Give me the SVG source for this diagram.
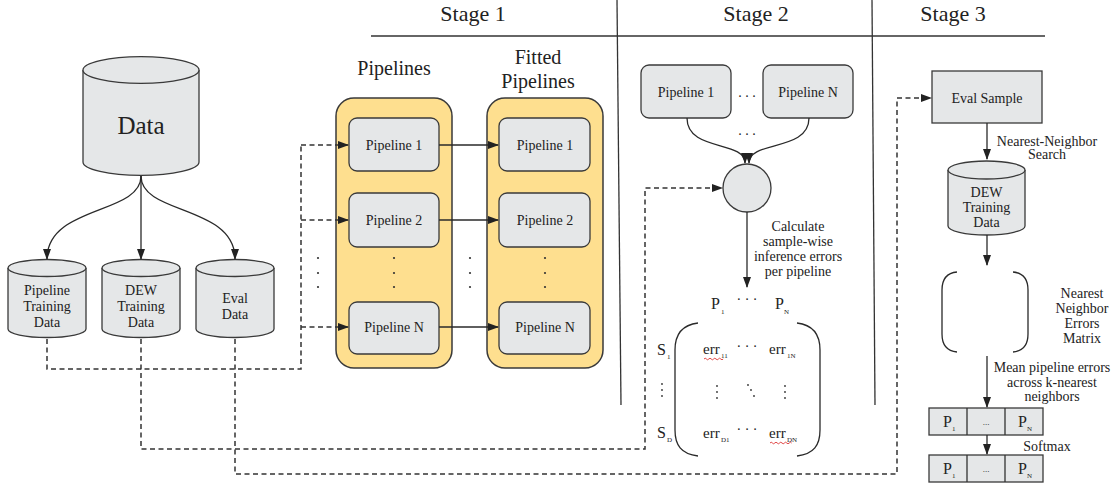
<svg xmlns="http://www.w3.org/2000/svg" width="1117" height="487" viewBox="0 0 1117 487">
<style>
text{font-family:"Liberation Serif","DejaVu Serif",serif;fill:#222;}
.t14{font-size:14px;text-anchor:middle;}
.stage{font-size:22px;text-anchor:middle;}
.title{font-size:20px;text-anchor:middle;}
.big{font-size:25px;text-anchor:middle;}
.m{font-size:16px;}
.e{font-size:15px;}
.sub{font-size:7px;}
.box{fill:#e5e7e8;stroke:#3a3a3a;stroke-width:1.3;}
.cont{fill:#fedf8f;stroke:#3a3a3a;stroke-width:1.5;}
.ln{fill:none;stroke:#2a2a2a;stroke-width:1.3;}
.dash{fill:none;stroke:#333;stroke-width:1.5;stroke-dasharray:5 3.5;}
.div{fill:none;stroke:#333;stroke-width:1.3;}
.dot{fill:#333;}
.red{fill:none;stroke:#d33;stroke-width:0.9;}
</style>
<defs>
<marker id="ah" markerWidth="11" markerHeight="10" refX="10" refY="5" orient="auto" markerUnits="userSpaceOnUse">
<path d="M0,1 L11,5 L0,9 Z" fill="#222"/>
</marker>
</defs>

<g id="stage-headers">
<text class="stage" x="473" y="21">Stage 1</text>
<text class="stage" x="756" y="21">Stage 2</text>
<text class="stage" x="953" y="21">Stage 3</text>
<path class="div" d="M371,36 H1045"/>
<path class="div" d="M617,0 L621,405"/>
<path class="div" d="M872,0 L875,405"/>
</g>

<g id="data">
<path class="box" d="M83,70 V162 A58,13.3 0 0 0 199,162 V70"/>
<ellipse class="box" cx="141" cy="70" rx="58" ry="13.3"/>
<text class="big" x="141" y="134">Data</text>
</g>

<g id="pipeline-training-data">
<path class="box" d="M8,268 V329 A39,8.5 0 0 0 86,329 V268"/>
<ellipse class="box" cx="47" cy="268" rx="39" ry="8.5"/>
<text class="t14" x="47" y="295">Pipeline</text>
<text class="t14" x="47" y="311">Training</text>
<text class="t14" x="47" y="327">Data</text>
</g>

<g id="dew-training-data">
<path class="box" d="M102,268 V329 A39,8.5 0 0 0 180,329 V268"/>
<ellipse class="box" cx="141" cy="268" rx="39" ry="8.5"/>
<text class="t14" x="141" y="295">DEW</text>
<text class="t14" x="141" y="311">Training</text>
<text class="t14" x="141" y="327">Data</text>
</g>

<g id="eval-data">
<path class="box" d="M196,268 V329 A39,8.5 0 0 0 274,329 V268"/>
<ellipse class="box" cx="235" cy="268" rx="39" ry="8.5"/>
<text class="t14" x="235" y="303">Eval</text>
<text class="t14" x="235" y="319">Data</text>
</g>

<g id="dots-left">
<circle class="dot" cx="318" cy="258" r="1.1"/><circle class="dot" cx="318" cy="273" r="1.1"/><circle class="dot" cx="318" cy="287" r="1.1"/>
<circle class="dot" cx="470" cy="258" r="1.1"/><circle class="dot" cx="470" cy="273" r="1.1"/><circle class="dot" cx="470" cy="287" r="1.1"/>
</g>

<g id="pipelines">
<text class="title" x="394" y="75">Pipelines</text>
<rect class="cont" x="336" y="98" width="116" height="270" rx="18"/>
<circle class="dot" cx="394" cy="258" r="1.1"/><circle class="dot" cx="394" cy="273" r="1.1"/><circle class="dot" cx="394" cy="287" r="1.1"/>
</g>
<g id="p1"><rect class="box" x="349" y="118" width="90" height="53" rx="8"/><text class="t14" x="394" y="150">Pipeline 1</text></g>
<g id="p2"><rect class="box" x="349" y="193" width="90" height="54" rx="8"/><text class="t14" x="394" y="225">Pipeline 2</text></g>
<g id="pN"><rect class="box" x="349" y="302" width="90" height="52" rx="8"/><text class="t14" x="394" y="332">Pipeline N</text></g>

<g id="fitted-pipelines">
<text class="title" x="538" y="64">Fitted</text>
<text class="title" x="538" y="88">Pipelines</text>
<rect class="cont" x="487" y="98" width="116" height="270" rx="18"/>
<circle class="dot" cx="545" cy="258" r="1.1"/><circle class="dot" cx="545" cy="273" r="1.1"/><circle class="dot" cx="545" cy="287" r="1.1"/>
</g>
<g id="fp1"><rect class="box" x="499" y="118" width="91" height="53" rx="8"/><text class="t14" x="545" y="150">Pipeline 1</text></g>
<g id="fp2"><rect class="box" x="499" y="193" width="91" height="54" rx="8"/><text class="t14" x="545" y="225">Pipeline 2</text></g>
<g id="fpN"><rect class="box" x="499" y="302" width="91" height="52" rx="8"/><text class="t14" x="545" y="332">Pipeline N</text></g>

<g id="s2-p1"><rect class="box" x="641" y="65" width="90" height="53" rx="8"/><text class="t14" x="686" y="97">Pipeline 1</text></g>
<g id="s2-pN"><rect class="box" x="763" y="65" width="90" height="53" rx="8"/><text class="t14" x="808" y="97">Pipeline N</text></g>
<g id="s2-dots">
<text class="t14" x="747" y="97">. . .</text>
<text class="t14" x="747" y="135">. . .</text>
</g>
<g id="s2-circle"><circle class="box" cx="747" cy="188" r="24"/></g>
<g id="s2-label">
<text class="t14" x="798" y="231">Calculate</text>
<text class="t14" x="798" y="246">sample-wise</text>
<text class="t14" x="798" y="261">inference errors</text>
<text class="t14" x="798" y="276">per pipeline</text>
</g>

<g id="error-matrix">
<text class="m" x="711" y="309">P</text><text class="sub" x="721" y="314">1</text>
<text class="t14" x="747" y="304">· · ·</text>
<text class="m" x="775" y="309">P</text><text class="sub" x="784" y="314">N</text>
<path class="ln" d="M698,323 C681,325 675,335 675,350 V430 C675,445 681,454 698,456"/>
<path class="ln" d="M797,323 C814,325 820,335 820,350 V430 C820,445 814,454 797,456"/>
<text class="m" x="657" y="355">S</text><text class="sub" x="667" y="359">1</text>
<circle class="dot" cx="662" cy="384" r="0.9"/><circle class="dot" cx="662" cy="390" r="0.9"/><circle class="dot" cx="662" cy="396" r="0.9"/>
<text class="m" x="657" y="438">S</text><text class="sub" x="667" y="442">D</text>
<text class="e" x="703" y="354">err</text><text class="sub" x="721" y="358">11</text>
<path class="red" d="M704,359 q1.2,-1.6 2.4,0 t2.4,0 t2.4,0 t2.4,0 t2.4,0 t2.4,0 t2.4,0 t2.4,0"/>
<text class="t14" x="747" y="351">· · ·</text>
<text class="e" x="769" y="354">err</text><text class="sub" x="787" y="358">1N</text>
<circle class="dot" cx="717" cy="386" r="0.9"/><circle class="dot" cx="717" cy="392" r="0.9"/><circle class="dot" cx="717" cy="398" r="0.9"/>
<circle class="dot" cx="748" cy="385" r="0.9"/><circle class="dot" cx="751" cy="390" r="0.9"/><circle class="dot" cx="754" cy="396" r="0.9"/>
<circle class="dot" cx="785" cy="386" r="0.9"/><circle class="dot" cx="785" cy="392" r="0.9"/><circle class="dot" cx="785" cy="398" r="0.9"/>
<text class="e" x="703" y="438">err</text><text class="sub" x="721" y="442">D1</text>
<text class="t14" x="747" y="434">· · ·</text>
<text class="e" x="769" y="438">err</text><text class="sub" x="787" y="442">DN</text>
<path class="red" d="M770,443 q1.2,-1.6 2.4,0 t2.4,0 t2.4,0 t2.4,0 t2.4,0 t2.4,0 t2.4,0 t2.4,0 t2.4,0"/>
</g>

<g id="eval-sample"><rect class="box" x="932" y="71" width="110" height="52"/><text class="t14" x="987" y="103">Eval Sample</text></g>
<g id="nn-label">
<text class="t14" x="1047" y="146">Nearest-Neighbor</text>
<text class="t14" x="1047" y="159">Search</text>
</g>
<g id="s3-dew">
<path class="box" d="M948,170 V226 A38.5,9 0 0 0 1025,226 V170"/>
<ellipse class="box" cx="986.5" cy="170" rx="38.5" ry="9"/>
<text class="t14" x="986.5" y="197">DEW</text>
<text class="t14" x="986.5" y="212">Training</text>
<text class="t14" x="986.5" y="227">Data</text>
</g>
<g id="nn-matrix">
<path class="ln" d="M957,272 C946,273 942,280 942,290 V334 C942,344 946,351 957,352"/>
<path class="ln" d="M1013,272 C1024,273 1028,280 1028,290 V334 C1028,344 1024,351 1013,352"/>
<text class="t14" x="1082" y="298">Nearest</text>
<text class="t14" x="1082" y="313">Neighbor</text>
<text class="t14" x="1082" y="328">Errors</text>
<text class="t14" x="1082" y="343">Matrix</text>
</g>
<g id="mean-label">
<text class="t14" x="1052" y="372">Mean pipeline errors</text>
<text class="t14" x="1052" y="387">across k-nearest</text>
<text class="t14" x="1052" y="401">neighbors</text>
</g>
<g id="row1">
<rect class="box" x="929" y="408" width="114" height="27"/>
<path class="div" d="M967,408 V435 M1005,408 V435"/>
<text class="m" x="943" y="427">P</text><text class="sub" x="952" y="431">1</text>
<text class="t14" x="986" y="425" style="font-size:9px">...</text>
<text class="m" x="1018" y="427">P</text><text class="sub" x="1027" y="431">N</text>
</g>
<g id="softmax-label"><text class="t14" x="1047" y="451">Softmax</text></g>
<g id="row2">
<rect class="box" x="929" y="455" width="114" height="27"/>
<path class="div" d="M967,455 V482 M1005,455 V482"/>
<text class="m" x="943" y="474">P</text><text class="sub" x="952" y="478">1</text>
<text class="t14" x="986" y="472" style="font-size:9px">...</text>
<text class="m" x="1018" y="474">P</text><text class="sub" x="1027" y="478">N</text>
</g>

<g id="connectors">
<path class="ln" d="M141,176 C141,215 47,205 47,259" marker-end="url(#ah)"/>
<path class="ln" d="M141,176 V259" marker-end="url(#ah)"/>
<path class="ln" d="M141,176 C141,215 235,205 235,259" marker-end="url(#ah)"/>
<path class="dash" d="M47,339 V369 H301 V145"/>
<path class="dash" d="M301,145 H348" marker-end="url(#ah)"/>
<path class="dash" d="M301,220 H348" marker-end="url(#ah)"/>
<path class="dash" d="M301,327 H348" marker-end="url(#ah)"/>
<path class="dash" d="M141,339 V449 H645 V188 H722" marker-end="url(#ah)"/>
<path class="dash" d="M235,339 V474 H897 V98 H931" marker-end="url(#ah)"/>
<path class="ln" d="M439,145 H498" marker-end="url(#ah)"/>
<path class="ln" d="M439,220 H498" marker-end="url(#ah)"/>
<path class="ln" d="M439,327 H498" marker-end="url(#ah)"/>
<path class="ln" d="M687,118 C687,152 745,140 745,163" marker-end="url(#ah)"/>
<path class="ln" d="M809,118 C809,152 749,140 749,163" marker-end="url(#ah)"/>
<path class="ln" d="M747,212 V287" marker-end="url(#ah)"/>
<path class="ln" d="M987,123 V159" marker-end="url(#ah)"/>
<path class="ln" d="M987,235 V265" marker-end="url(#ah)"/>
<path class="ln" d="M987,356 V407" marker-end="url(#ah)"/>
<path class="ln" d="M987,435 V454" marker-end="url(#ah)"/>
</g>
</svg>
